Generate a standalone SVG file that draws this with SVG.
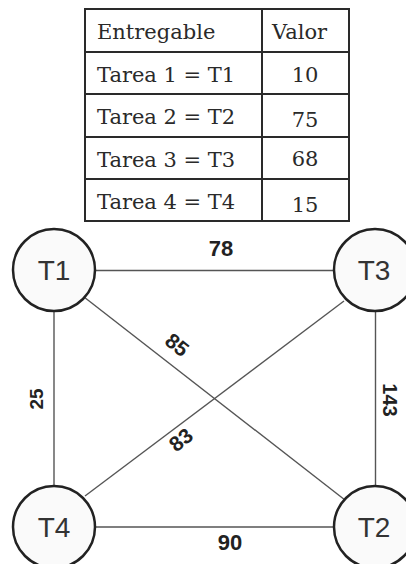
<svg xmlns="http://www.w3.org/2000/svg" width="406" height="564" viewBox="0 0 406 564">
<style>
.tt{font-family:"DejaVu Serif","Liberation Serif",serif;font-size:21px;fill:#2a2a2a}
.tv{font-family:"DejaVu Serif","Liberation Serif",serif;font-size:21px;fill:#2a2a2a;text-anchor:middle}
.rule{stroke:#2a2a2a;stroke-width:2}
.node circle{fill:#fafafa;stroke:#222;stroke-width:2.5}
.node text{font-family:"Liberation Sans",Arial,sans-serif;font-size:28px;fill:#333;text-anchor:middle}
.edge{stroke:#555;stroke-width:1.4;fill:none}
.lbl{font-family:"Liberation Sans",Arial,sans-serif;font-size:21px;font-weight:bold;fill:#222;text-anchor:middle}
</style>
<rect width="406" height="564" fill="#fff"/>
<g id="table">
<rect x="85" y="9" width="264" height="212" fill="#fff" stroke="#2a2a2a" stroke-width="2"/>
<line class="rule" x1="262" y1="9" x2="262" y2="221"/>
<line class="rule" x1="85" y1="52" x2="349" y2="52"/>
<line class="rule" x1="85" y1="94" x2="349" y2="94"/>
<line class="rule" x1="85" y1="137" x2="349" y2="137"/>
<line class="rule" x1="85" y1="179" x2="349" y2="179"/>
<text class="tt" x="97" y="39">Entregable</text>
<text class="tt" x="272" y="39">Valor</text>
<text class="tt" x="97" y="82">Tarea 1 = T1</text>
<text class="tv" x="305" y="82">10</text>
<text class="tt" x="97" y="124">Tarea 2 = T2</text>
<text class="tv" x="305" y="127">75</text>
<text class="tt" x="97" y="167">Tarea 3 = T3</text>
<text class="tv" x="305" y="166">68</text>
<text class="tt" x="97" y="209">Tarea 4 = T4</text>
<text class="tv" x="305" y="212">15</text>
</g>
<g id="connectors">
<line class="edge" x1="95" y1="270.5" x2="333" y2="270.5"/>
<line class="edge" x1="95" y1="527" x2="334" y2="527"/>
<line class="edge" x1="54" y1="311" x2="54" y2="486"/>
<line class="edge" x1="375.5" y1="311" x2="375.5" y2="486"/>
<line class="edge" x1="84" y1="297" x2="345" y2="500"/>
<line class="edge" x1="85" y1="496" x2="344" y2="301"/>
<text class="lbl" x="221" y="256" style="font-size:22px">78</text>
<text class="lbl" x="230" y="550" style="font-size:22px">90</text>
<text class="lbl" transform="translate(43 399) rotate(-90)" style="font-size:19px">25</text>
<text class="lbl" transform="translate(383 400) rotate(90)" style="font-size:20px">143</text>
<text class="lbl" transform="translate(172.6 350.5) rotate(38.7)">85</text>
<text class="lbl" transform="translate(185.4 445.5) rotate(-38.7)">83</text>
</g>
<g id="T1" class="node"><circle cx="54" cy="270" r="41"/><text x="54" y="280">T1</text></g>
<g id="T3" class="node"><circle cx="375" cy="270" r="41"/><text x="374" y="280">T3</text></g>
<g id="T4" class="node"><circle cx="54" cy="527" r="41"/><text x="54" y="537">T4</text></g>
<g id="T2" class="node"><circle cx="375" cy="527" r="41"/><text x="374" y="537">T2</text></g>
</svg>
